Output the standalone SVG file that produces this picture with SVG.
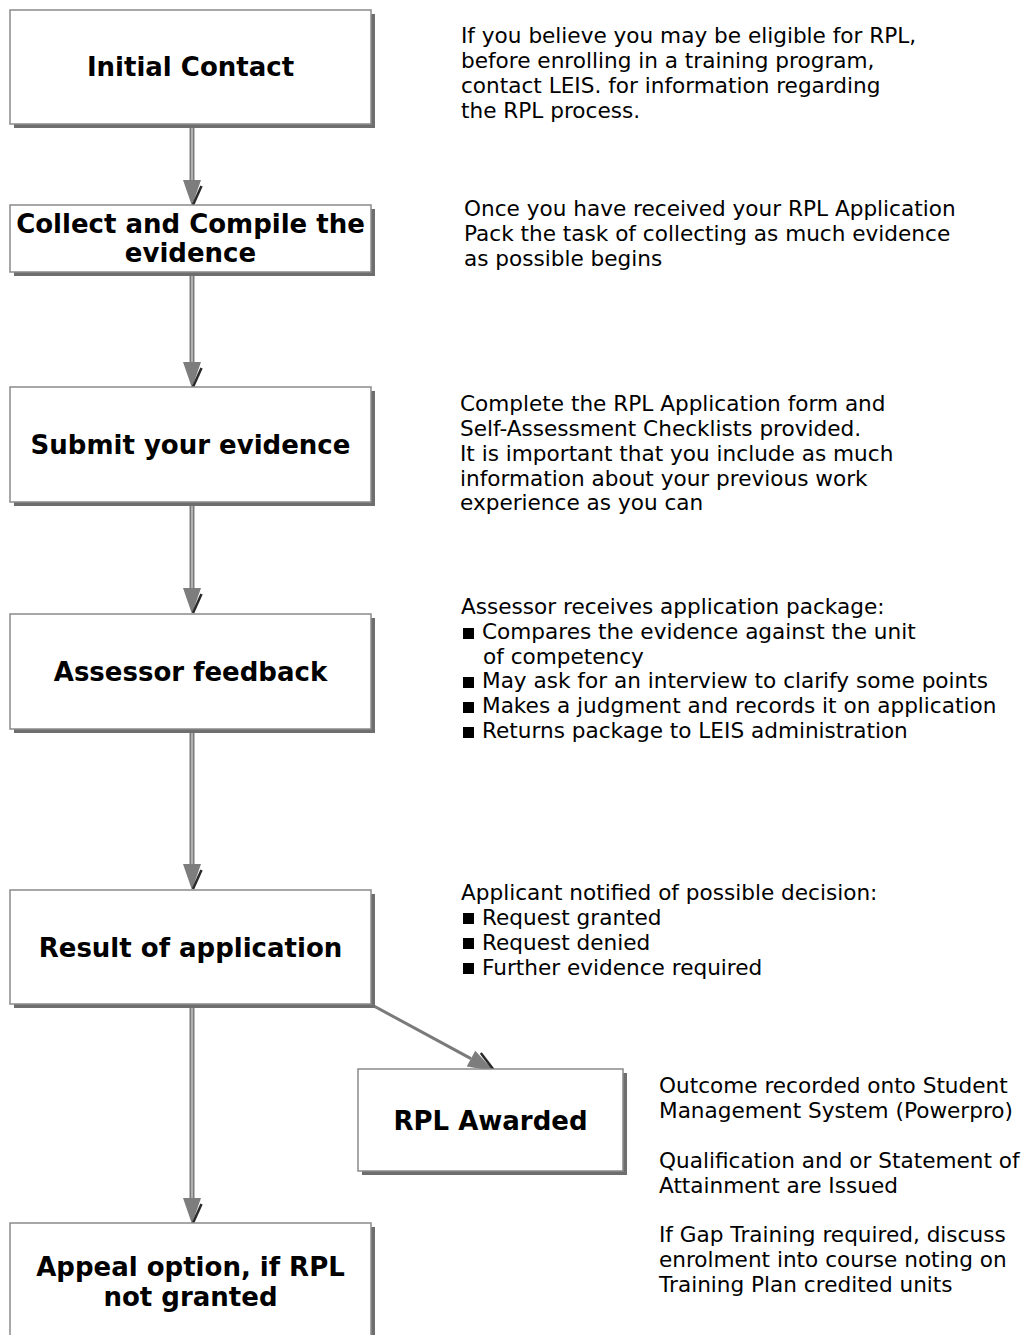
<svg xmlns="http://www.w3.org/2000/svg" width="1021" height="1335" viewBox="0 0 1021 1335">
<style>
.box{fill:#fff;stroke:#8a8a8a;stroke-width:1.5}
.shadow{fill:#6e6e6e}
.lbl{font-family:"DejaVu Sans","Verdana",sans-serif;font-weight:bold;font-size:26px;fill:#000;text-anchor:middle}
.txt{font-family:"DejaVu Sans","Verdana",sans-serif;font-size:21.6px;fill:#000}
.lineo{stroke:#7a7a7a;stroke-width:5;fill:none}
.linei{stroke:#c4c4c4;stroke-width:1.5;fill:none}
.bul{fill:#000}
</style>
<defs>
<marker id="ah" viewBox="0 -2 28 22" refX="0" refY="9" markerWidth="28" markerHeight="22" markerUnits="userSpaceOnUse" orient="auto" overflow="visible">
<path d="M0,0 L26,9 L0,18 Z" fill="#7d7d7d"/>
<path d="M6,-0.5 L25,8" stroke="#2a2a2a" stroke-width="2.5" fill="none"/>
</marker>
</defs>
<rect width="1021" height="1335" fill="#fff"/>

<g id="connectors">
<path class="lineo" d="M192,124 V180" marker-end="url(#ah)"/>
<path class="linei" d="M192,124 V180"/>
<path class="lineo" d="M192,273 V362" marker-end="url(#ah)"/>
<path class="linei" d="M192,273 V362"/>
<path class="lineo" d="M192,503 V588" marker-end="url(#ah)"/>
<path class="linei" d="M192,503 V588"/>
<path class="lineo" d="M192,730 V864" marker-end="url(#ah)"/>
<path class="linei" d="M192,730 V864"/>
<path class="lineo" d="M192,1005 V1198" marker-end="url(#ah)"/>
<path class="linei" d="M192,1005 V1198"/>
<path d="M372,1005 L471,1058.6" stroke="#7a7a7a" stroke-width="3" fill="none" marker-end="url(#ah)"/>
</g>

<g id="n1">
<rect class="shadow" x="14" y="14" width="361" height="114"/>
<rect class="box" x="10" y="10" width="361" height="114"/>
<text class="lbl" x="190.5" y="76">Initial Contact</text>
</g>
<g id="n2">
<rect class="shadow" x="14" y="209" width="361" height="67"/>
<rect class="box" x="10" y="205" width="361" height="67"/>
<text class="lbl" x="190.5" y="233">Collect and Compile the</text>
<text class="lbl" x="190.5" y="262">evidence</text>
</g>
<g id="n3">
<rect class="shadow" x="14" y="391" width="361" height="115"/>
<rect class="box" x="10" y="387" width="361" height="115"/>
<text class="lbl" x="190.5" y="454">Submit your evidence</text>
</g>
<g id="n4">
<rect class="shadow" x="14" y="618" width="361" height="115"/>
<rect class="box" x="10" y="614" width="361" height="115"/>
<text class="lbl" x="190.5" y="681">Assessor feedback</text>
</g>
<g id="n5">
<rect class="shadow" x="14" y="894" width="361" height="114"/>
<rect class="box" x="10" y="890" width="361" height="114"/>
<text class="lbl" x="190.5" y="957">Result of application</text>
</g>
<g id="n6">
<rect class="shadow" x="362" y="1073" width="265" height="102"/>
<rect class="box" x="358" y="1069" width="265" height="102"/>
<text class="lbl" x="490.5" y="1130">RPL Awarded</text>
</g>
<g id="n7">
<rect class="shadow" x="14" y="1227" width="361" height="130"/>
<rect class="box" x="10" y="1223" width="361" height="130"/>
<text class="lbl" x="190.5" y="1276">Appeal option, if RPL</text>
<text class="lbl" x="190.5" y="1306">not granted</text>
</g>

<g id="notes">
<text class="txt" x="461" y="43">If you believe you may be eligible for RPL,</text>
<text class="txt" x="461" y="68">before enrolling in a training program,</text>
<text class="txt" x="461" y="93">contact LEIS. for information regarding</text>
<text class="txt" x="461" y="118">the RPL process.</text>

<text class="txt" x="464" y="216">Once you have received your RPL Application</text>
<text class="txt" x="464" y="241">Pack the task of collecting as much evidence</text>
<text class="txt" x="464" y="266">as possible begins</text>

<text class="txt" x="460" y="411">Complete the RPL Application form and</text>
<text class="txt" x="460" y="436">Self-Assessment Checklists provided.</text>
<text class="txt" x="460" y="461">It is important that you include as much</text>
<text class="txt" x="460" y="486">information about your previous work</text>
<text class="txt" x="460" y="510">experience as you can</text>

<text class="txt" x="461" y="614">Assessor receives application package:</text>
<rect class="bul" x="463" y="628" width="11" height="11"/>
<text class="txt" x="482" y="639">Compares the evidence against the unit</text>
<text class="txt" x="483" y="664">of competency</text>
<rect class="bul" x="463" y="677" width="11" height="11"/>
<text class="txt" x="482" y="688">May ask for an interview to clarify some points</text>
<rect class="bul" x="463" y="702" width="11" height="11"/>
<text class="txt" x="482" y="713">Makes a judgment and records it on application</text>
<rect class="bul" x="463" y="727" width="11" height="11"/>
<text class="txt" x="482" y="738">Returns package to LEIS administration</text>

<text class="txt" x="461" y="900">Applicant notified of possible decision:</text>
<rect class="bul" x="463" y="913" width="11" height="11"/>
<text class="txt" x="482" y="925">Request granted</text>
<rect class="bul" x="463" y="938" width="11" height="11"/>
<text class="txt" x="482" y="950">Request denied</text>
<rect class="bul" x="463" y="963" width="11" height="11"/>
<text class="txt" x="482" y="975">Further evidence required</text>

<text class="txt" x="659" y="1093">Outcome recorded onto Student</text>
<text class="txt" x="659" y="1118">Management System (Powerpro)</text>
<text class="txt" x="659" y="1168">Qualification and or Statement of</text>
<text class="txt" x="659" y="1193">Attainment are Issued</text>
<text class="txt" x="659" y="1242">If Gap Training required, discuss</text>
<text class="txt" x="659" y="1267">enrolment into course noting on</text>
<text class="txt" x="659" y="1292">Training Plan credited units</text>
</g>
</svg>
